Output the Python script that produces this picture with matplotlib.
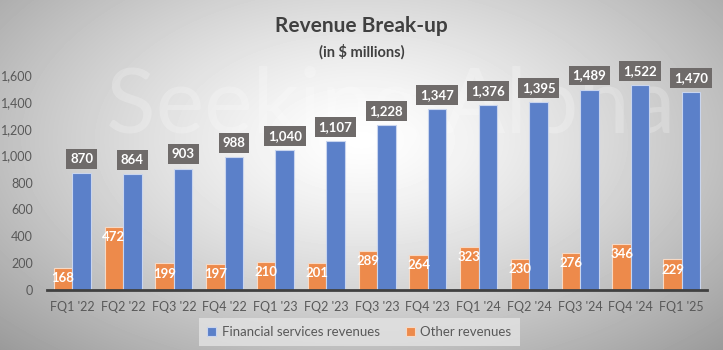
import numpy as np
import matplotlib.pyplot as plt

quarters = ["FQ1 '22", "FQ2 '22", "FQ3 '22", "FQ4 '22", "FQ1 '23", "FQ2 '23", "FQ3 '23",
            "FQ4 '23", "FQ1 '24", "FQ2 '24", "FQ3 '24", "FQ4 '24", "FQ1 '25"]
financial = [870, 864, 903, 988, 1040, 1107, 1228, 1347, 1376, 1395, 1489, 1522, 1470]
other = [168, 472, 199, 197, 210, 201, 289, 264, 323, 230, 276, 346, 229]

plt.rcParams['font.family'] = ['Lato', 'DejaVu Sans']

fig = plt.figure(figsize=(7.23, 3.5), dpi=100)

# radial gradient background
bg = fig.add_axes([0, 0, 1, 1], zorder=-10)
yy, xx = np.mgrid[0:1:350j, 0:1:723j]
r = np.sqrt(((xx - 0.5) / 0.72) ** 2 + ((yy - 0.4) / 0.85) ** 2)
shade = 1.0 - 0.4 * np.clip(r, 0, 1) ** 1.3
bg.imshow(shade, cmap='gray', vmin=0, vmax=1, aspect='auto', extent=[0, 1, 1, 0])
bg.set_axis_off()

# faint watermark
fig.text(0.54, 0.69, "Seeking Alpha", fontsize=66, color='white', alpha=0.22,
         ha='center', va='center', zorder=-5)

ax = fig.add_axes([0.065, 0.171, 0.913, 0.615])
ax.patch.set_alpha(0)

x = np.arange(len(quarters))
w = 0.365
b_other = ax.bar(x - w / 2, other, w, color='#ED8A4B', edgecolor='#F7D9C4', linewidth=0.8,
                 label='Other revenues', zorder=2)
b_fin = ax.bar(x + w / 2, financial, w, color='#5B80C9', edgecolor='#C9D5EE', linewidth=0.8,
               label='Financial services revenues', zorder=2)

for xi, v in zip(x, financial):
    ax.annotate(f"{v:,}", (xi + w / 2, v), xytext=(0, 6), textcoords='offset points',
                ha='center', va='bottom', color='white', fontsize=9.5, fontweight='bold',
                bbox=dict(boxstyle='square,pad=0.3', fc='#6F6B6A', ec='none'), zorder=3)
for xi, v in zip(x, other):
    ax.annotate(f"{v:,}", (xi - w / 2, v), xytext=(0, -3), textcoords='offset points',
                ha='center', va='top', color='white', fontsize=9.5, fontweight='bold', zorder=3)

ax.set_xlim(-0.5, len(quarters) - 0.5)
ax.set_ylim(0, 1600)
ax.set_yticks(range(0, 1601, 200))
ax.yaxis.set_major_formatter(plt.FuncFormatter(lambda v, p: f"{int(v):,}"))
ax.set_xticks(x)
ax.set_xticklabels(quarters)
ax.tick_params(axis='both', length=0, labelsize=9, colors='#595959')
ax.tick_params(axis='x', pad=8)
ax.tick_params(axis='y', pad=10)
for s in ['top', 'right', 'left']:
    ax.spines[s].set_visible(False)
ax.spines['bottom'].set_color('#404040')
ax.spines['bottom'].set_linewidth(2)

fig.text(0.5, 0.925, "Revenue Break-up", ha='center', va='center', fontsize=15,
         fontweight='bold', color='#404040')
fig.text(0.5, 0.852, "(in $ millions)", ha='center', va='center', fontsize=10.5,
         fontweight='bold', color='#404040')

leg = fig.legend([b_fin, b_other], ['Financial services revenues', 'Other revenues'],
                 loc='center', bbox_to_anchor=(0.497, 0.052), ncol=2, frameon=True,
                 fontsize=9.5, handlelength=0.7, handleheight=0.7, columnspacing=2.0,
                 handletextpad=0.4, fancybox=False, borderpad=0.6)
leg.get_frame().set_facecolor('#E3E3E3')
leg.get_frame().set_edgecolor('none')
for t in leg.get_texts():
    t.set_color('#595959')

fig.savefig('out.png', dpi=100)
